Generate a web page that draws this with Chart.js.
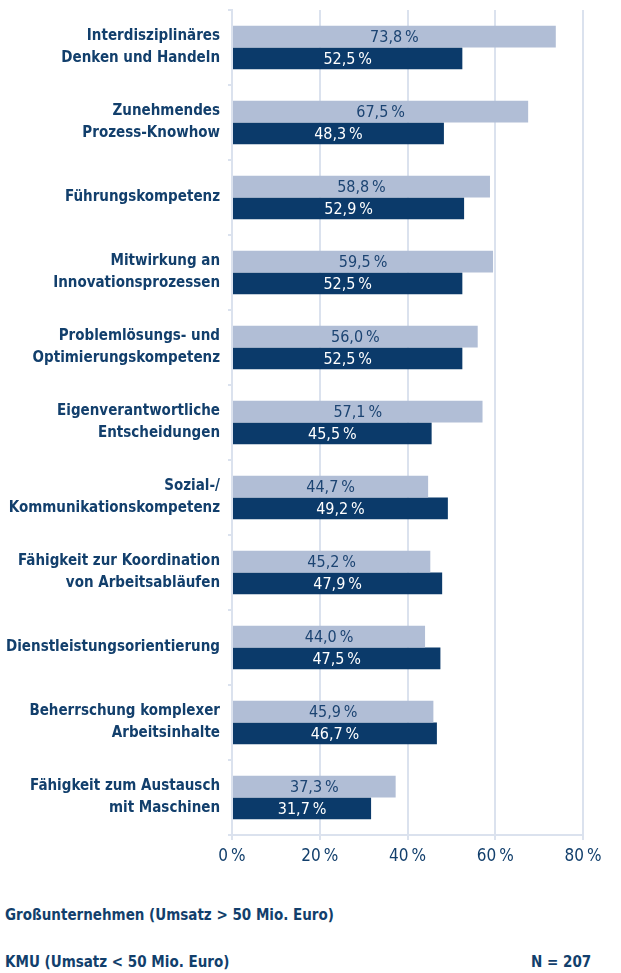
<!DOCTYPE html>
<html>
<head>
<meta charset="utf-8">
<script src="https://cdn.jsdelivr.net/npm/chart.js@4"></script>
<style>
  body { margin: 0; background: #fff; width: 621px; height: 973px; overflow: hidden;
         font-family: 'Liberation Sans Narrow', 'DejaVu Sans Condensed', Roboto, sans-serif; color: #123f6c; }
  #wrap { position: absolute; left: 0; top: 0; width: 621px; height: 880px; }
  .note { position: absolute; font-size: 15px; font-weight: bold; }
</style>
</head>
<body>
<div id="wrap"><canvas id="barChart"></canvas></div>
<div class="note" style="left:5px; top:906px;">Großunternehmen (Umsatz &gt; 50 Mio. Euro)</div>
<div class="note" style="left:5px; top:953px;">KMU (Umsatz &lt; 50 Mio. Euro)</div>
<div class="note" style="left:531px; top:953px;">N = 207</div>
<script>
const categories = [
  ['Interdisziplinäres', 'Denken und Handeln'],
  ['Zunehmendes', 'Prozess-Knowhow'],
  'Führungskompetenz',
  ['Mitwirkung an', 'Innovationsprozessen'],
  ['Problemlösungs- und', 'Optimierungskompetenz'],
  ['Eigenverantwortliche', 'Entscheidungen'],
  ['Sozial-/', 'Kommunikationskompetenz'],
  ['Fähigkeit zur Koordination', 'von Arbeitsabläufen'],
  'Dienstleistungsorientierung',
  ['Beherrschung komplexer', 'Arbeitsinhalte'],
  ['Fähigkeit zum Austausch', 'mit Maschinen']
];
const grossValues = [73.8, 67.5, 58.8, 59.5, 56.0, 57.1, 44.7, 45.2, 44.0, 45.9, 37.3];
const kmuValues = [52.5, 48.3, 52.9, 52.5, 52.5, 45.5, 49.2, 47.9, 47.5, 46.7, 31.7];
const xTicks = [0, 20, 40, 60, 80];

const FONT = "'Liberation Sans Narrow', 'DejaVu Sans Condensed', Roboto, sans-serif";
const navy = '#0b3a6a';
const light = '#b1bed6';
const gridColor = '#dbe2ee';

// puts the value in the middle of each bar
const valueLabels = {
  id: 'valueLabels',
  afterDatasetsDraw(chart) {
    const ctx = chart.ctx;
    ctx.save();
    ctx.font = '16px ' + FONT;
    ctx.textAlign = 'center';
    ctx.textBaseline = 'middle';
    chart.data.datasets.forEach(function(ds, i) {
      chart.getDatasetMeta(i).data.forEach(function(bar, j) {
        const txt = ds.data[j].toFixed(1).replace('.', ',') + '\u2009%';
        ctx.fillStyle = i === 0 ? '#1c4472' : '#ffffff';
        ctx.fillText(txt, (bar.x + bar.base) / 2, bar.y + 1);
      });
    });
    ctx.restore();
  }
};

const ctx = document.getElementById('barChart').getContext('2d');
new Chart(ctx, {
  type: 'bar',
  data: {
    labels: categories,
    datasets: [
      { label: 'Großunternehmen (Umsatz > 50 Mio. Euro)', data: grossValues, backgroundColor: light },
      { label: 'KMU (Umsatz < 50 Mio. Euro)', data: kmuValues, backgroundColor: navy }
    ]
  },
  options: {
    indexAxis: 'y',
    responsive: true,
    maintainAspectRatio: false,
    animation: false,
    categoryPercentage: 0.58,
    barPercentage: 1.0,
    layout: { padding: { top: 10, right: 38, left: 0, bottom: 0 } },
    plugins: {
      legend: { display: false },
      tooltip: { enabled: false }
    },
    scales: {
      x: {
        min: 0,
        max: 80,
        afterBuildTicks: function(scale) { scale.ticks = xTicks.map(function(v) { return { value: v }; }); },
        grid: { color: gridColor, lineWidth: 2, tickLength: 5 },
        border: { color: gridColor, width: 2 },
        ticks: {
          color: '#123f6c',
          padding: 6,
          font: { family: FONT, size: 17 },
          callback: function(v) { return v + '\u2009%'; }
        },
        afterFit: function(scale) { scale.height = 45; scale.paddingLeft = 0; scale.paddingRight = 0; }
      },
      y: {
        grid: { offset: true, drawOnChartArea: false, color: gridColor, lineWidth: 2, tickLength: 4 },
        border: { color: gridColor, width: 2 },
        ticks: {
          color: '#123f6c',
          padding: 8,
          font: { family: FONT, size: 15, weight: 'bold', lineHeight: 1.47 }
        },
        afterFit: function(scale) { scale.width = 232; scale.paddingTop = 0; scale.paddingBottom = 0; }
      }
    }
  },
  plugins: [valueLabels]
});
</script>
</body>
</html>
